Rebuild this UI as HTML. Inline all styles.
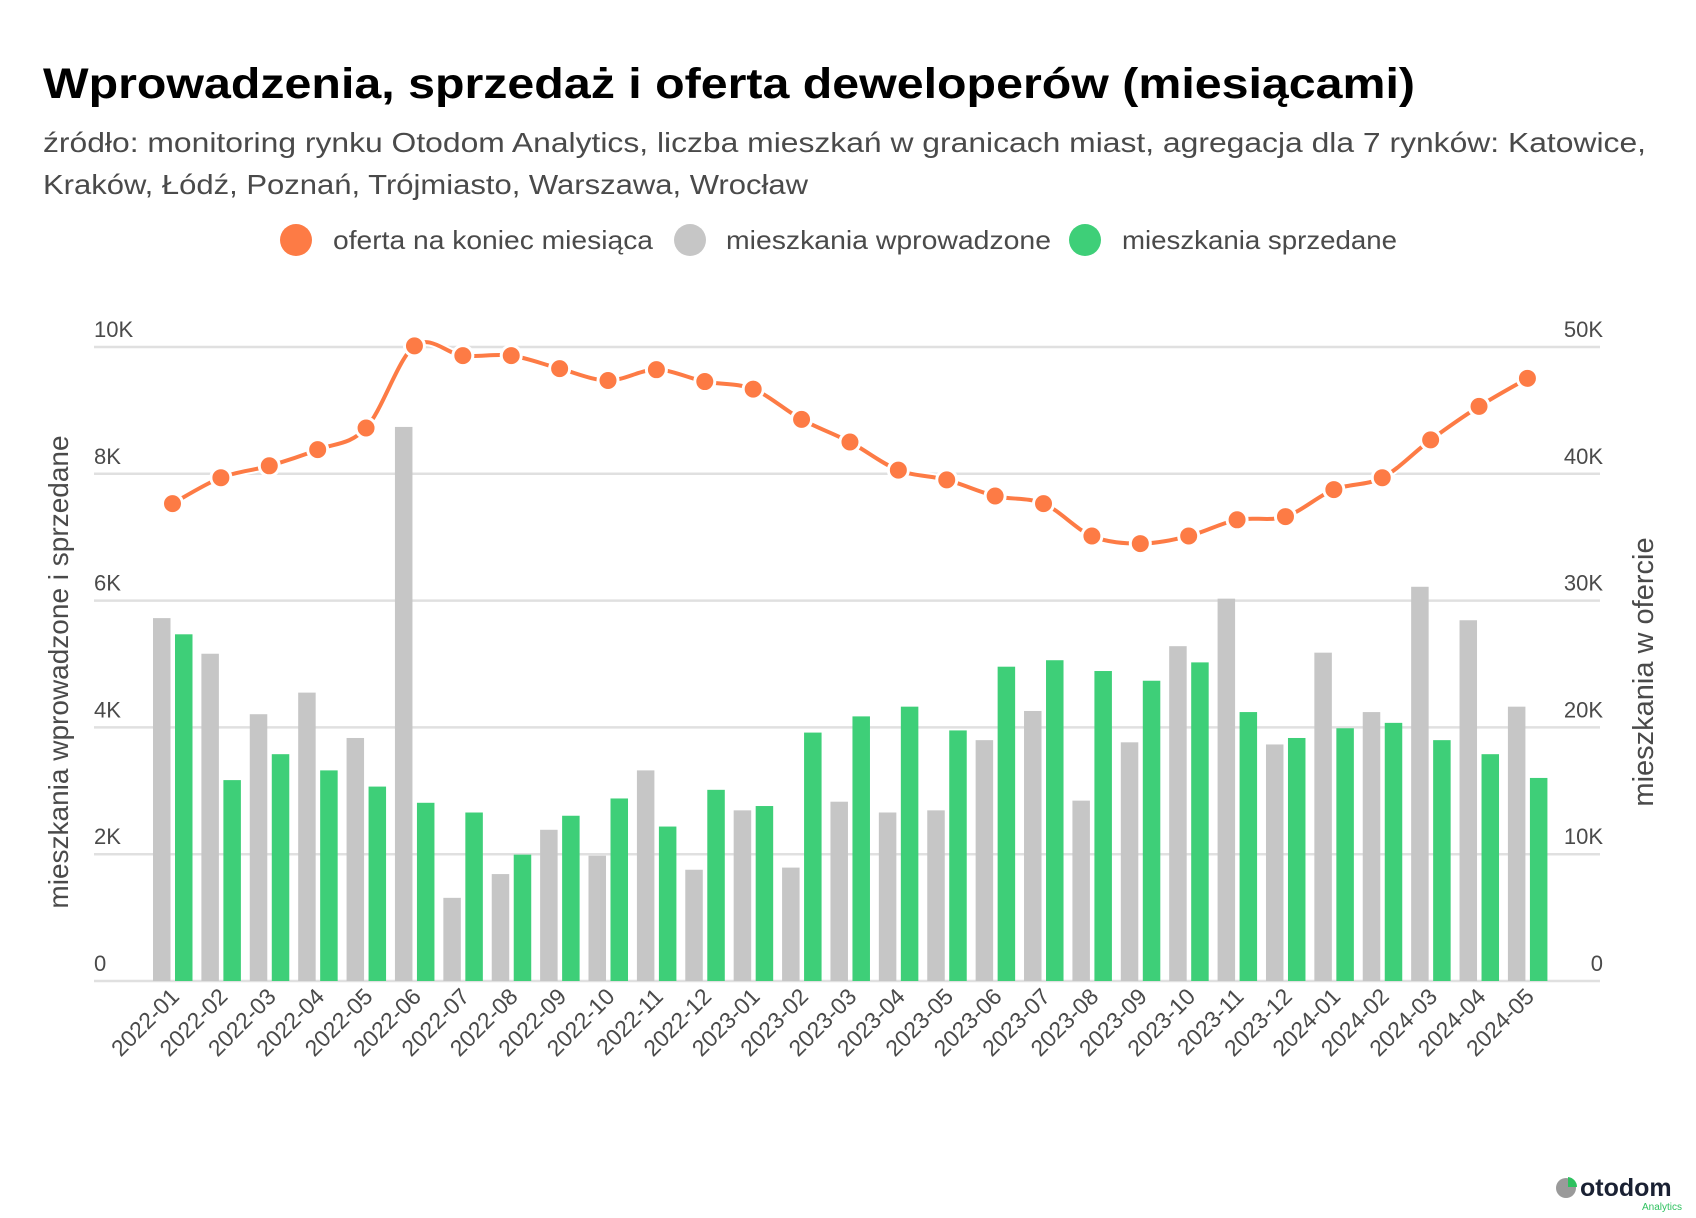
<!DOCTYPE html>
<html><head><meta charset="utf-8"><style>
html,body{margin:0;padding:0;background:#fff;}
svg{display:block;font-family:"Liberation Sans",sans-serif;}
</style></head><body>
<svg id="c" width="1696" height="1218" xmlns="http://www.w3.org/2000/svg">
<text x="43" y="98" font-size="43" font-weight="bold" fill="#000" textLength="1372" lengthAdjust="spacingAndGlyphs">Wprowadzenia, sprzedaż i oferta deweloperów (miesiącami)</text>
<text x="43" y="152" font-size="28" fill="#4a4a4a" textLength="1603" lengthAdjust="spacingAndGlyphs">źródło: monitoring rynku Otodom Analytics, liczba mieszkań w granicach miast, agregacja dla 7 rynków: Katowice,</text>
<text x="43" y="194" font-size="28" fill="#4a4a4a" textLength="765" lengthAdjust="spacingAndGlyphs">Kraków, Łódź, Poznań, Trójmiasto, Warszawa, Wrocław</text>
<circle cx="296" cy="240" r="16" fill="#fd7b45"/>
<text x="333" y="249" font-size="26" fill="#4a4a4a" textLength="320" lengthAdjust="spacingAndGlyphs">oferta na koniec miesiąca</text>
<circle cx="690" cy="240" r="16" fill="#c6c6c6"/>
<text x="726" y="249" font-size="26" fill="#4a4a4a" textLength="325" lengthAdjust="spacingAndGlyphs">mieszkania wprowadzone</text>
<circle cx="1085" cy="240" r="16" fill="#3ecf78"/>
<text x="1122" y="249" font-size="26" fill="#4a4a4a" textLength="275" lengthAdjust="spacingAndGlyphs">mieszkania sprzedane</text>
<g id="g"></g>
<text transform="translate(68,672) rotate(-90)" text-anchor="middle" font-size="28" fill="#4a4a4a">mieszkania wprowadzone i sprzedane</text>
<text transform="translate(1653,672) rotate(-90)" text-anchor="middle" font-size="29" fill="#4a4a4a">mieszkania w ofercie</text>
<g transform="translate(1556,1188)">
<circle cx="10" cy="0" r="10" fill="#9a9a9a"/>
<path d="M12,-11 A10,10 0 0 1 21,-1 L12,-1 Z" fill="#2ec15f"/>
<text x="24" y="8" font-size="25" font-weight="bold" fill="#1a2133">otodom</text>
<text x="126" y="22" font-size="10" fill="#2ec15f" text-anchor="end">Analytics</text>
</g>
</svg>
<script>
var NS="http://www.w3.org/2000/svg",g=document.getElementById('g');
function el(t,a,txt){var e=document.createElementNS(NS,t);for(var k in a)e.setAttribute(k,a[k]);if(txt!=null)e.textContent=txt;g.appendChild(e);return e;}
function Y(d){return 347+(d-320)*(634/587);}
var gray=[571,604,660,640,682,394,830,808,767,791,712,804,749,802,741,751,749,684,657,740,686,597,553,688,603,658,542,573,653];
var green=[586,721,697,712,727,742,751,790,754,738,764,730,745,677,662,653,675,616,610,620,629,612,658,682,673,668,684,697,719];
var line=[465,441,430,415,395,319,328,328,340,351,341,352,359,387,408,434,443,458,465,495,502,495,480,477,452,441,406,375,349];
var lab=[];for(var i=0;i<29;i++){var y=2022+Math.floor(i/12),m=i%12+1;lab.push(y+'-'+(m<10?'0':'')+m);}
var L=['0','2K','4K','6K','8K','10K'],R=['0','10K','20K','30K','40K','50K'];
for(var k=0;k<6;k++){var yy=981-k*126.8;
el('line',{x1:94,x2:1600,y1:yy,y2:yy,stroke:'#e0e0e0','stroke-width':2.5});
el('text',{x:94,y:yy-10,'font-size':22,fill:'#4a4a4a'},L[k]);
el('text',{x:1603,y:yy-10,'font-size':22,fill:'#4a4a4a','text-anchor':'end'},R[k]);}
var s=48.39,pts=[];
for(var i=0;i<29;i++){var gx=175+i*s;
var a=Y(gray[i]);el('rect',{x:gx-22,y:a,width:17.5,height:981-a,fill:'#c6c6c6'});
var b=Y(green[i]);el('rect',{x:gx,y:b,width:17.5,height:981-b,fill:'#3ecf78'});
var cx=gx-2.5;pts.push([cx,Y(line[i])]);
el('text',{transform:'translate('+(cx+8)+',998) rotate(-45)','text-anchor':'end','font-size':23,fill:'#4a4a4a'},lab[i]);}
var d='M'+pts[0][0]+','+pts[0][1];
for(var i=0;i<pts.length-1;i++){var p0=pts[i-1]||pts[i],p1=pts[i],p2=pts[i+1],p3=pts[i+2]||p2;
d+=' C'+(p1[0]+(p2[0]-p0[0])/6)+','+(p1[1]+(p2[1]-p0[1])/6)+' '+(p2[0]-(p3[0]-p1[0])/6)+','+(p2[1]-(p3[1]-p1[1])/6)+' '+p2[0]+','+p2[1];}
el('path',{d:d,fill:'none',stroke:'#fff','stroke-width':8});
el('path',{d:d,fill:'none',stroke:'#fd7b45','stroke-width':4});
pts.forEach(function(p){el('circle',{cx:p[0],cy:p[1],r:10,fill:'#fd7b45',stroke:'#fff','stroke-width':3});});
</script>
</body></html>
